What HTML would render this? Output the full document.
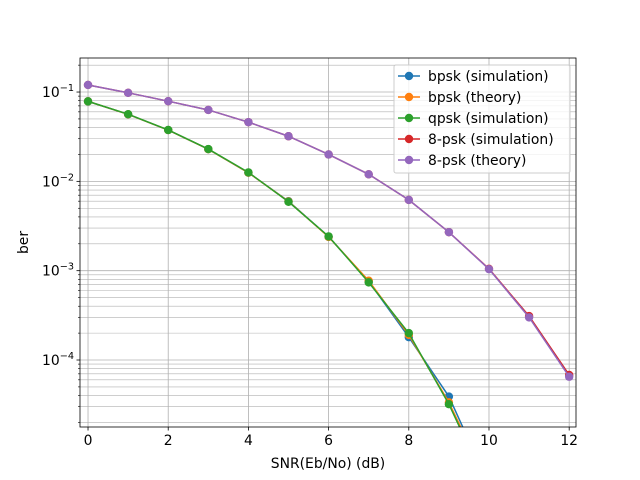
<!DOCTYPE html>
<html><head><meta charset="utf-8"><style>
html,body{margin:0;background:#fff;overflow:hidden}
svg{display:block;font-family:"DejaVu Sans","Liberation Sans",sans-serif}
</style></head><body>
<svg id="chart" width="640" height="480"></svg>
<script>
const snr=[0,1,2,3,4,5,6,7,8,9,10,11,12];
const bpskSim=[0.0786,0.0563,0.0375,0.0229,0.0125,0.00600,0.00240,0.00076,0.00018,3.9e-5,4e-6,3e-7,1e-8];
const bpskTh=[0.0786,0.0563,0.0375,0.0229,0.0125,0.00595,0.00239,0.000773,0.000191,3.36e-5,3.87e-6,2.6e-7,9e-9];
const qpskSim=[0.0786,0.0565,0.0376,0.0230,0.0126,0.00590,0.00242,0.00074,0.000200,3.2e-5,3.5e-6,2.5e-7,1e-8];
const psk8Sim=[0.120,0.098,0.079,0.063,0.046,0.032,0.020,0.012,0.0062,0.0027,0.00105,0.00031,6.8e-5];
const psk8Th=[0.120,0.098,0.079,0.063,0.046,0.032,0.020,0.012,0.0062,0.0027,0.00104,0.00030,6.5e-5];
const xTicks=[0,2,4,6,8,10,12];
const yTickExp=[-1,-2,-3,-4];
const L=80,R=576,T=58,B=427;
const xMin=-0.2,xMax=12.17,yTop=-0.619,yBot=-4.75;
const X=v=>L+(v-xMin)/(xMax-xMin)*(R-L);
const Y=v=>T+(yTop-Math.log10(v))/(yTop-yBot)*(B-T);
const NS="http://www.w3.org/2000/svg",svg=document.getElementById('chart');
function mk(tag,attrs,parent){const e=document.createElementNS(NS,tag);for(const k in attrs)e.setAttribute(k,attrs[k]);(parent||svg).appendChild(e);return e;}
const defs=mk('defs',{});const cp=mk('clipPath',{id:'clip'},defs);mk('rect',{x:L,y:T,width:R-L,height:B-T},cp);
const grid=mk('g',{'clip-path':'url(#clip)'});


for(const t of xTicks){mk('line',{x1:X(t),x2:X(t),y1:T,y2:B,stroke:'#b0b0b0','stroke-width':0.8},grid);}
for(let e=-5;e<=0;e++)for(let m=1;m<=9;m++){const v=m*Math.pow(10,e);const y=Y(v);if(y<T||y>B)continue;mk('line',{x1:L,x2:R,y1:y,y2:y,stroke:'#b0b0b0','stroke-width':m===1?0.8:0.6},grid);}
const series=[[bpskSim,'#1f77b4','bpsk (simulation)'],[bpskTh,'#ff7f0e','bpsk (theory)'],[qpskSim,'#2ca02c','qpsk (simulation)'],[psk8Sim,'#d62728','8-psk (simulation)'],[psk8Th,'#9467bd','8-psk (theory)']];
const plot=mk('g',{'clip-path':'url(#clip)'});
series.forEach(([d,c,n])=>{
 const g=mk('g',{},plot);
 
 
 mk('polyline',{points:snr.map((s,i)=>X(s)+','+Y(d[i])).join(' '),fill:'none',stroke:c,'stroke-width':1.5},g);
 snr.forEach((s,i)=>{const p=mk('circle',{cx:X(s),cy:Y(d[i]),r:4.2,fill:c},g);
  
  });
});
const frame=mk('rect',{x:L,y:T,width:R-L,height:B-T,fill:'none',stroke:'#000','stroke-width':0.8});


for(const t of xTicks){mk('line',{x1:X(t),x2:X(t),y1:B,y2:B+3.5,stroke:'#000','stroke-width':0.8});
 const tx=mk('text',{x:X(t),y:B+18,'text-anchor':'middle','font-size':13.9,fill:'#000'});tx.textContent=t;
 
 }
for(let e=-5;e<=0;e++)for(let m=1;m<=9;m++){const y=Y(m*Math.pow(10,e));if(y<T||y>B)continue;mk('line',{x1:L,x2:L-(m===1?3.5:2),y1:y,y2:y,stroke:'#000','stroke-width':m===1?0.8:0.6});}
for(const e of yTickExp){const y=Y(Math.pow(10,e));
 const tx=mk('text',{x:L-6,y:y+5,'text-anchor':'end','font-size':13.9,fill:'#000'});
 
 
 const a=mk('tspan',{},tx);a.textContent='10';const b=mk('tspan',{dy:-6,'font-size':9.7},tx);b.textContent='\u2212'+(-e);}
const xl=mk('text',{x:(L+R)/2,y:468,'text-anchor':'middle','font-size':13.9});xl.textContent='SNR(Eb/No)  (dB)';


const yl=mk('text',{x:28,y:(T+B)/2,'text-anchor':'middle','font-size':13.9,transform:`rotate(-90 28 ${(T+B)/2})`});yl.textContent='ber';


const lg=mk('g',{});


mk('rect',{x:394,y:65,width:176,height:108,rx:2,fill:'#fff','fill-opacity':0.8,stroke:'#ccc'},lg);
series.forEach(([d,c,n],i)=>{const y=76+i*21;
 const e=mk('g',{},lg);
 
 
 mk('line',{x1:398,x2:420,y1:y,y2:y,stroke:c,'stroke-width':1.5},e);
 mk('circle',{cx:409,cy:y,r:4.2,fill:c},e);
 const t=mk('text',{x:428,y:y+5,'font-size':13.9},e);t.textContent=n;});
</script>
</body></html>
